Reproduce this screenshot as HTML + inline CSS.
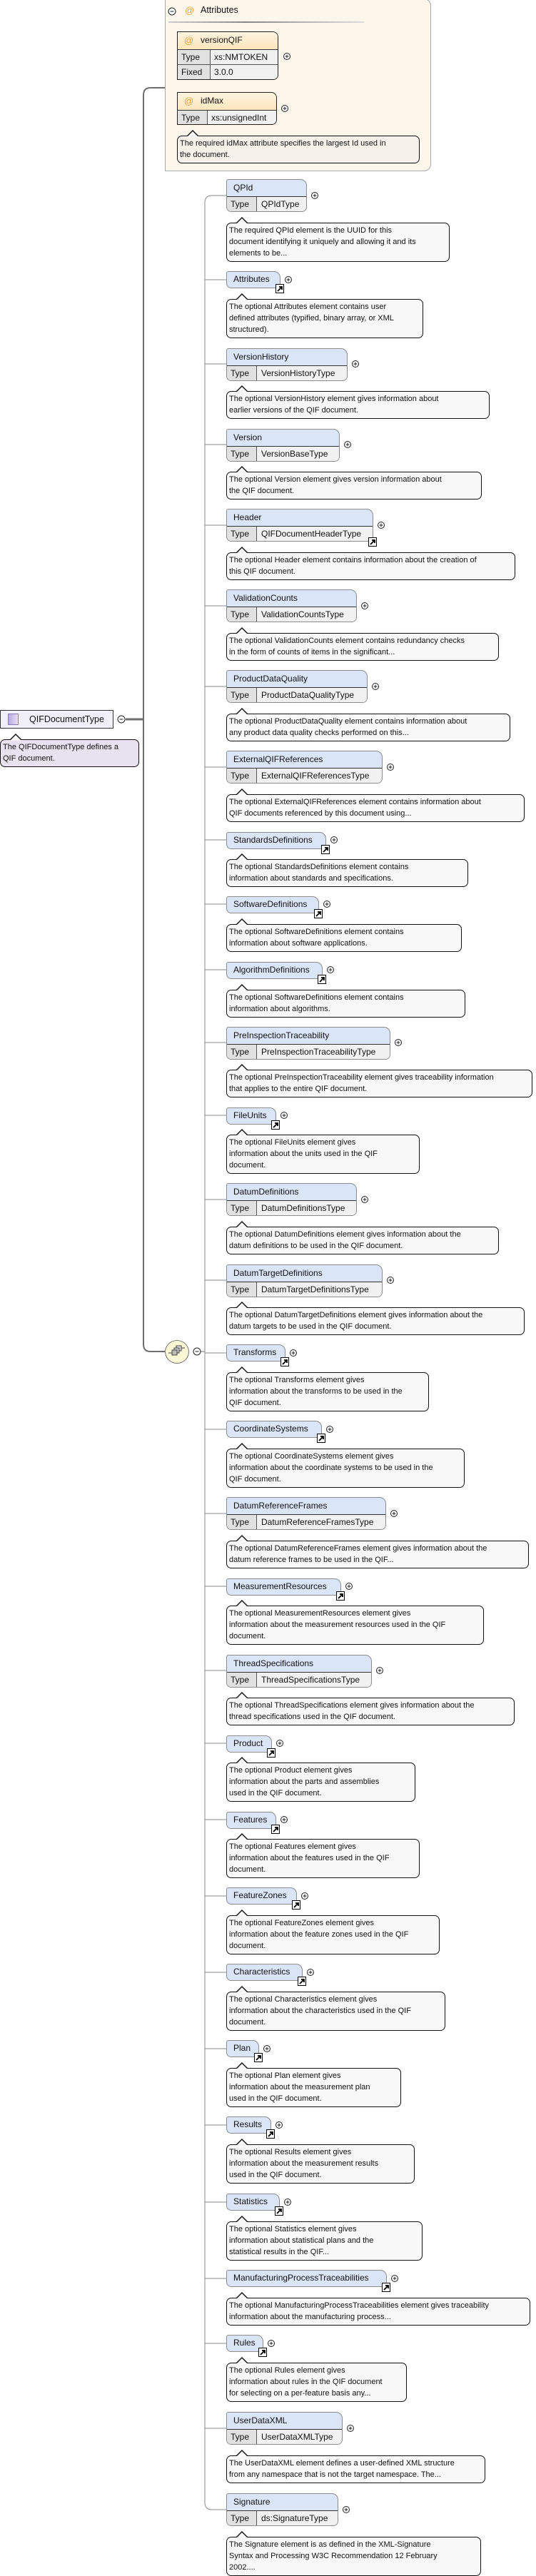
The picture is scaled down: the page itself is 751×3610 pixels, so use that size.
<!DOCTYPE html>
<html><head><meta charset="utf-8">
<style>
*{box-sizing:border-box;margin:0;padding:0}
html,body{width:751px;height:3610px;background:#fff;overflow:hidden}
body{position:relative;font-family:"Liberation Sans",Arial,sans-serif;color:#111}
.e{position:absolute;left:317px;border:1px solid #8c8c8c;border-radius:3px 9px 7px 7px;background:#dae5f7;overflow:hidden;font-size:12px}
.e .h{height:23px;line-height:22px;padding-left:9px;white-space:nowrap}
.e.r .h{height:22px;line-height:21px}
.e .t{height:22px;border-top:1px solid #333;display:flex;line-height:20px;white-space:nowrap}
.t span:first-child{width:42px;background:#e1e1e1;border-right:1px solid #555;padding-left:5px}
.t span:last-child{flex:1;background:#f1f1f1;padding-left:6px}
.d{position:absolute;left:317px;border:1px solid #111;border-radius:7px;background:#f8f8f8;font-size:11px;line-height:16px;padding:2px 3px;white-space:nowrap;overflow:visible}
.d::before{content:"";position:absolute;left:12px;top:-9px;border-left:9px solid transparent;border-right:9px solid transparent;border-bottom:9px solid #111}
.d::after{content:"";position:absolute;left:13px;top:-7px;border-left:8px solid transparent;border-right:8px solid transparent;border-bottom:8px solid #f8f8f8}
.d3{height:55px}.d2{height:39px}
svg{position:absolute;left:0;top:0}
</style></head><body>

<!-- Attributes container -->
<div style="position:absolute;left:231px;top:-2px;width:373px;height:242px;background:#fdf7eb;border:1px solid #a8a8a8;border-radius:0 10px 10px 0"></div>
<div style="position:absolute;left:236px;top:30px;width:274px;height:2px;background:linear-gradient(90deg,#ccc,#888 40%,#ddd)"></div>
<div style="position:absolute;left:259px;top:7px;font-size:13px;color:#e8a33a">@</div>
<div style="position:absolute;left:281px;top:7px;font-size:12.5px">Attributes</div>

<div style="position:absolute;left:248px;top:44px;width:142px;height:68px;border:1px solid #222;border-radius:0 8px 7px 0;overflow:hidden;font-size:12px">
 <div style="height:24px;background:linear-gradient(#fdf3df,#fde6bd);line-height:23px;padding-left:32px;position:relative"><span style="position:absolute;left:9px;color:#e8a33a;font-size:13px">@</span>versionQIF</div>
 <div style="display:flex;height:21px;border-top:1px solid #333;line-height:20px"><span style="width:46px;background:#e1e1e1;border-right:1px solid #555;padding-left:5px">Type</span><span style="flex:1;background:#f1f1f1;padding-left:5px">xs:NMTOKEN</span></div>
 <div style="display:flex;height:22px;border-top:1px solid #555;line-height:20px"><span style="width:46px;background:#e1e1e1;border-right:1px solid #555;padding-left:5px">Fixed</span><span style="flex:1;background:#f1f1f1;padding-left:5px">3.0.0</span></div>
</div>
<div style="position:absolute;left:248px;top:129px;width:140px;height:46px;border:1px solid #222;border-radius:0 8px 7px 0;overflow:hidden;font-size:12px">
 <div style="height:24px;background:linear-gradient(#fdf3df,#fde6bd);line-height:23px;padding-left:32px;position:relative"><span style="position:absolute;left:9px;color:#e8a33a;font-size:13px">@</span>idMax</div>
 <div style="display:flex;height:21px;border-top:1px solid #333;line-height:20px"><span style="width:42px;background:#e1e1e1;border-right:1px solid #555;padding-left:5px">Type</span><span style="flex:1;background:#f1f1f1;padding-left:5px">xs:unsignedInt</span></div>
</div>
<div class="d d2" style="left:248px;top:190px;width:340px;background:#f6f2ea">The required idMax attribute specifies the largest Id used in<br>the document.</div>

<!-- Root -->
<div style="position:absolute;left:0;top:995px;width:159px;height:26px;background:#f1eff9;border:1px solid #333;font-size:12.5px;line-height:24px;padding-left:40px">QIFDocumentType</div>
<div style="position:absolute;left:11px;top:1000px;width:15px;height:16px;background:linear-gradient(90deg,#b9a8e2,#e8e0f8);border:1px solid #8a7ab8"></div>
<div class="d d2" style="left:0;top:1036px;width:195px;background:#e8e2f0">The QIFDocumentType defines a<br>QIF document.</div>

<!-- Compositor -->
<div style="position:absolute;left:231px;top:1878px;width:34px;height:33px;border-radius:50%;background:#fbf8d6;border:1px solid #777"></div>

<!-- Elements -->
<div class="e" style="top:251px;width:113px;height:46px"><div class="h">QPId</div><div class="t"><span>Type</span><span>QPIdType</span></div></div>
<div class="d d3" style="top:312px;width:313px">The required QPId element is the UUID for this<br>document identifying it uniquely and allowing it and its<br>elements to be...</div>

<div class="e r" style="top:380px;width:76px;height:24px"><div class="h">Attributes</div></div>
<div class="d d3" style="top:419px;width:276px">The optional Attributes element contains user<br>defined attributes (typified, binary array, or XML<br>structured).</div>

<div class="e" style="top:488px;width:170px;height:46px"><div class="h">VersionHistory</div><div class="t"><span>Type</span><span>VersionHistoryType</span></div></div>
<div class="d d2" style="top:548px;width:369px">The optional VersionHistory element gives information about<br>earlier versions of the QIF document.</div>

<div class="e" style="top:601px;width:159px;height:46px"><div class="h">Version</div><div class="t"><span>Type</span><span>VersionBaseType</span></div></div>
<div class="d d2" style="top:661px;width:358px">The optional Version element gives version information about<br>the QIF document.</div>

<div class="e" style="top:713px;width:206px;height:46px"><div class="h">Header</div><div class="t"><span>Type</span><span>QIFDocumentHeaderType</span></div></div>
<div class="d d2" style="top:774px;width:405px">The optional Header element contains information about the creation of<br>this QIF document.</div>

<div class="e" style="top:826px;width:183px;height:46px"><div class="h">ValidationCounts</div><div class="t"><span>Type</span><span>ValidationCountsType</span></div></div>
<div class="d d2" style="top:887px;width:382px">The optional ValidationCounts element contains redundancy checks<br>in the form of counts of items in the significant...</div>

<div class="e" style="top:939px;width:198px;height:46px"><div class="h">ProductDataQuality</div><div class="t"><span>Type</span><span>ProductDataQualityType</span></div></div>
<div class="d d2" style="top:1000px;width:398px">The optional ProductDataQuality element contains information about<br>any product data quality checks performed on this...</div>

<div class="e" style="top:1052px;width:219px;height:46px"><div class="h">ExternalQIFReferences</div><div class="t"><span>Type</span><span>ExternalQIFReferencesType</span></div></div>
<div class="d d2" style="top:1113px;width:418px">The optional ExternalQIFReferences element contains information about<br>QIF documents referenced by this document using...</div>

<div class="e r" style="top:1166px;width:140px;height:24px"><div class="h">StandardsDefinitions</div></div>
<div class="d d2" style="top:1204px;width:339px">The optional StandardsDefinitions element contains<br>information about standards and specifications.</div>

<div class="e r" style="top:1256px;width:130px;height:24px"><div class="h">SoftwareDefinitions</div></div>
<div class="d d2" style="top:1295px;width:330px">The optional SoftwareDefinitions element contains<br>information about software applications.</div>

<div class="e r" style="top:1348px;width:135px;height:24px"><div class="h">AlgorithmDefinitions</div></div>
<div class="d d2" style="top:1387px;width:335px">The optional SoftwareDefinitions element contains<br>information about algorithms.</div>

<div class="e" style="top:1439px;width:230px;height:46px"><div class="h">PreInspectionTraceability</div><div class="t"><span>Type</span><span>PreInspectionTraceabilityType</span></div></div>
<div class="d d2" style="top:1499px;width:429px">The optional PreInspectionTraceability element gives traceability information<br>that applies to the entire QIF document.</div>

<div class="e r" style="top:1552px;width:70px;height:24px"><div class="h">FileUnits</div></div>
<div class="d d3" style="top:1590px;width:271px">The optional FileUnits element gives<br>information about the units used in the QIF<br>document.</div>

<div class="e" style="top:1658px;width:183px;height:46px"><div class="h">DatumDefinitions</div><div class="t"><span>Type</span><span>DatumDefinitionsType</span></div></div>
<div class="d d2" style="top:1719px;width:382px">The optional DatumDefinitions element gives information about the<br>datum definitions to be used in the QIF document.</div>

<div class="e" style="top:1772px;width:219px;height:46px"><div class="h">DatumTargetDefinitions</div><div class="t"><span>Type</span><span>DatumTargetDefinitionsType</span></div></div>
<div class="d d2" style="top:1832px;width:418px">The optional DatumTargetDefinitions element gives information about the<br>datum targets to be used in the QIF document.</div>

<div class="e r" style="top:1884px;width:83px;height:24px"><div class="h">Transforms</div></div>
<div class="d d3" style="top:1923px;width:284px">The optional Transforms element gives<br>information about the transforms to be used in the<br>QIF document.</div>

<div class="e r" style="top:1991px;width:134px;height:24px"><div class="h">CoordinateSystems</div></div>
<div class="d d3" style="top:2030px;width:334px">The optional CoordinateSystems element gives<br>information about the coordinate systems to be used in the<br>QIF document.</div>

<div class="e" style="top:2098px;width:224px;height:46px"><div class="h">DatumReferenceFrames</div><div class="t"><span>Type</span><span>DatumReferenceFramesType</span></div></div>
<div class="d d2" style="top:2159px;width:424px">The optional DatumReferenceFrames element gives information about the<br>datum reference frames to be used in the QIF...</div>

<div class="e r" style="top:2212px;width:161px;height:24px"><div class="h">MeasurementResources</div></div>
<div class="d d3" style="top:2250px;width:361px">The optional MeasurementResources element gives<br>information about the measurement resources used in the QIF<br>document.</div>

<div class="e" style="top:2319px;width:204px;height:46px"><div class="h">ThreadSpecifications</div><div class="t"><span>Type</span><span>ThreadSpecificationsType</span></div></div>
<div class="d d2" style="top:2379px;width:404px">The optional ThreadSpecifications element gives information about the<br>thread specifications used in the QIF document.</div>

<div class="e r" style="top:2432px;width:64px;height:24px"><div class="h">Product</div></div>
<div class="d d3" style="top:2470px;width:265px">The optional Product element gives<br>information about the parts and assemblies<br>used in the QIF document.</div>

<div class="e r" style="top:2539px;width:70px;height:24px"><div class="h">Features</div></div>
<div class="d d3" style="top:2577px;width:271px">The optional Features element gives<br>information about the features used in the QIF<br>document.</div>

<div class="e r" style="top:2645px;width:99px;height:24px"><div class="h">FeatureZones</div></div>
<div class="d d3" style="top:2684px;width:299px">The optional FeatureZones element gives<br>information about the feature zones used in the QIF<br>document.</div>

<div class="e r" style="top:2752px;width:107px;height:24px"><div class="h">Characteristics</div></div>
<div class="d d3" style="top:2791px;width:307px">The optional Characteristics element gives<br>information about the characteristics used in the QIF<br>document.</div>

<div class="e r" style="top:2859px;width:46px;height:24px"><div class="h">Plan</div></div>
<div class="d d3" style="top:2898px;width:245px">The optional Plan element gives<br>information about the measurement plan<br>used in the QIF document.</div>

<div class="e r" style="top:2966px;width:63px;height:24px"><div class="h">Results</div></div>
<div class="d d3" style="top:3005px;width:264px">The optional Results element gives<br>information about the measurement results<br>used in the QIF document.</div>

<div class="e r" style="top:3074px;width:75px;height:24px"><div class="h">Statistics</div></div>
<div class="d d3" style="top:3113px;width:275px">The optional Statistics element gives<br>information about statistical plans and the<br>statistical results in the QIF...</div>

<div class="e r" style="top:3181px;width:225px;height:24px"><div class="h">ManufacturingProcessTraceabilities</div></div>
<div class="d d2" style="top:3220px;width:426px">The optional ManufacturingProcessTraceabilities element gives traceability<br>information about the manufacturing process...</div>

<div class="e r" style="top:3272px;width:52px;height:24px"><div class="h">Rules</div></div>
<div class="d d3" style="top:3311px;width:253px">The optional Rules element gives<br>information about rules in the QIF document<br>for selecting on a per-feature basis any...</div>

<div class="e" style="top:3380px;width:163px;height:46px"><div class="h">UserDataXML</div><div class="t"><span>Type</span><span>UserDataXMLType</span></div></div>
<div class="d d2" style="top:3441px;width:363px">The UserDataXML element defines a user-defined XML structure<br>from any namespace that is not the target namespace. The...</div>

<div class="e" style="top:3494px;width:157px;height:46px"><div class="h">Signature</div><div class="t"><span>Type</span><span>ds:SignatureType</span></div></div>
<div class="d d3" style="top:3555px;width:357px">The Signature element is as defined in the XML-Signature<br>Syntax and Processing W3C Recommendation 12 February<br>2002....</div>

<svg width="751" height="3610" viewBox="0 0 751 3610">
<defs>
 <g id="pl"><circle r="4.5" fill="#fff" stroke="#222" stroke-width="1"/><path d="M-2.5,0H2.5M0,-2.5V2.5" stroke="#222" stroke-width="1"/></g>
 <g id="mi"><circle r="5" fill="#fff" stroke="#222" stroke-width="1"/><path d="M-2.5,0H2.5" stroke="#222" stroke-width="1"/></g>
 <g id="sc"><rect x="0.5" y="0.5" width="11" height="12" fill="#fff" stroke="#000"/><path d="M3,10L8.5,4.5M5,4H9V8" stroke="#000" stroke-width="1.8" fill="none"/></g>
</defs>
<g fill="none" stroke="#6e6e6e">
 <path d="M231,123H211Q201,123 201,133V1884Q201,1894 211,1894H231" stroke-width="2"/>
 <path d="M176,1008H201" stroke-width="3"/>
 <path d="M281,1894H287" stroke-width="1"/>
 <path d="M317,274H297Q287,274 287,284V3507Q287,3517 297,3517H317" stroke="#8a8a8a"/>
 <g stroke="#8a8a8a">
 <path d="M287,392H317M287,510H317M287,623H317M287,736H317M287,849H317M287,962H317M287,1075H317M287,1177H317M287,1267H317M287,1359H317M287,1461H317M287,1563H317M287,1681H317M287,1794H317M287,1896H317M287,2003H317M287,2121H317M287,2223H317M287,2341H317M287,2443H317M287,2550H317M287,2657H317M287,2764H317M287,2871H317M287,2978H317M287,3086H317M287,3193H317M287,3284H317M287,3403H317"/>
 </g>
</g>
<!-- compositor icon -->
<g stroke="#444" stroke-width="1">
 <rect x="247" y="1886" width="7" height="7" fill="#ddd"/>
 <rect x="244" y="1889" width="7" height="7" fill="#ccc"/>
 <rect x="241" y="1892" width="7" height="7" fill="#bbb"/>
 <path d="M236,1896H241M254,1889H259" />
</g>
<use href="#mi" x="241" y="16"/>
<use href="#mi" x="170" y="1008"/>
<use href="#mi" x="276" y="1894"/>
<use href="#pl" x="402" y="79"/>
<use href="#pl" x="399" y="152"/>
<!-- plus icons -->
<use href="#pl" x="441" y="274"/>
<use href="#pl" x="404" y="392"/>
<use href="#pl" x="498" y="510"/>
<use href="#pl" x="487" y="623"/>
<use href="#pl" x="534" y="736"/>
<use href="#pl" x="511" y="849"/>
<use href="#pl" x="526" y="962"/>
<use href="#pl" x="547" y="1075"/>
<use href="#pl" x="468" y="1177"/>
<use href="#pl" x="458" y="1267"/>
<use href="#pl" x="463" y="1359"/>
<use href="#pl" x="558" y="1461"/>
<use href="#pl" x="398" y="1563"/>
<use href="#pl" x="511" y="1681"/>
<use href="#pl" x="547" y="1794"/>
<use href="#pl" x="411" y="1896"/>
<use href="#pl" x="462" y="2003"/>
<use href="#pl" x="552" y="2121"/>
<use href="#pl" x="489" y="2223"/>
<use href="#pl" x="532" y="2341"/>
<use href="#pl" x="392" y="2443"/>
<use href="#pl" x="398" y="2550"/>
<use href="#pl" x="427" y="2657"/>
<use href="#pl" x="435" y="2764"/>
<use href="#pl" x="374" y="2871"/>
<use href="#pl" x="391" y="2978"/>
<use href="#pl" x="403" y="3086"/>
<use href="#pl" x="553" y="3193"/>
<use href="#pl" x="380" y="3284"/>
<use href="#pl" x="491" y="3403"/>
<use href="#pl" x="485" y="3517"/>
<!-- shortcut icons (right-7, bottom-6) -->
<use href="#sc" x="386" y="398"/>
<use href="#sc" x="516" y="753"/>
<use href="#sc" x="450" y="1184"/>
<use href="#sc" x="440" y="1274"/>
<use href="#sc" x="445" y="1366"/>
<use href="#sc" x="380" y="1570"/>
<use href="#sc" x="393" y="1902"/>
<use href="#sc" x="444" y="2009"/>
<use href="#sc" x="471" y="2230"/>
<use href="#sc" x="374" y="2450"/>
<use href="#sc" x="380" y="2557"/>
<use href="#sc" x="409" y="2663"/>
<use href="#sc" x="417" y="2770"/>
<use href="#sc" x="356" y="2877"/>
<use href="#sc" x="373" y="2984"/>
<use href="#sc" x="385" y="3092"/>
<use href="#sc" x="535" y="3199"/>
<use href="#sc" x="362" y="3290"/>
</svg>
</body></html>
